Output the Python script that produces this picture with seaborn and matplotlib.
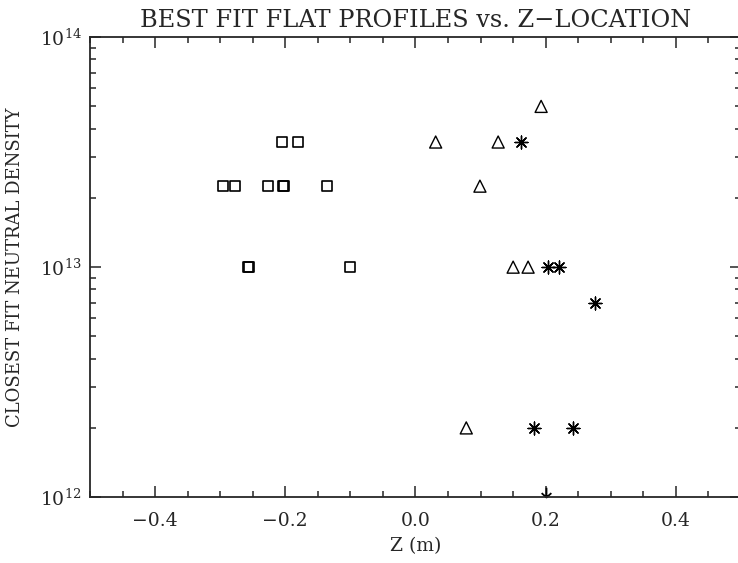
import numpy as np
import pandas as pd
import matplotlib
matplotlib.use("Agg")
import matplotlib.pyplot as plt
from matplotlib.path import Path
from matplotlib.ticker import MultipleLocator, LogLocator
import seaborn as sns

# ---- data ----
square_z = [-0.205, -0.180, -0.296, -0.277, -0.227, -0.204, -0.202, -0.136, -0.256, -0.258, -0.101]
square_n = [3.5e13, 3.5e13, 2.25e13, 2.25e13, 2.25e13, 2.25e13, 2.25e13, 2.25e13, 1e13, 1e13, 1e13]

triangle_z = [0.193, 0.031, 0.127, 0.099, 0.150, 0.173, 0.078]
triangle_n = [5e13, 3.5e13, 3.5e13, 2.25e13, 1e13, 1e13, 2e12]

star_z = [0.162, 0.204, 0.220, 0.276, 0.182, 0.242]
star_n = [3.5e13, 1e13, 1e13, 7e12, 2e12, 2e12]

limit_z = [0.200]
limit_n = [1e12]

x_ticks = [-0.4, -0.2, 0.0, 0.2, 0.4]
x_ticklabels = ["\u22120.4", "\u22120.2", "0.0", "0.2", "0.4"]

sns.set_style("ticks")
plt.rcParams["font.family"] = ["DejaVu Serif"]
plt.rcParams["mathtext.fontset"] = "dejavuserif"

fig = plt.figure(figsize=(7.38, 5.63), dpi=100)
ax = fig.add_axes([0.122, 0.117, 0.882, 0.817])

sq = pd.DataFrame({"z": square_z, "n": square_n})
tr = pd.DataFrame({"z": triangle_z, "n": triangle_n})
st = pd.DataFrame({"z": star_z, "n": star_n})

sns.scatterplot(data=sq, x="z", y="n", marker="s", s=52, facecolor="none",
                edgecolor="black", linewidth=1.2, ax=ax)
sns.scatterplot(data=tr, x="z", y="n", marker="^", s=75, facecolor="none",
                edgecolor="black", linewidth=1.0, ax=ax)
sns.scatterplot(data=st, x="z", y="n", marker=(8, 2, 0), s=85, color="black",
                linewidth=1.0, ax=ax)

arrow = Path([(0, 1.0), (0, 0), (-0.5, 0.45), (0, 0), (0.5, 0.45)],
             [Path.MOVETO, Path.LINETO, Path.MOVETO, Path.LINETO, Path.LINETO])
ax.plot(limit_z, limit_n, linestyle="none", marker=arrow, markersize=14,
        markeredgecolor="black", markerfacecolor="none", markeredgewidth=1.3,
        clip_on=False)

ax.set_yscale("log")
ax.set_xlim(-0.5, 0.5)
ax.set_ylim(1e12, 1e14)
ax.set_xticks(x_ticks)
ax.set_xticklabels(x_ticklabels)
ax.xaxis.set_minor_locator(MultipleLocator(0.05))
ax.yaxis.set_major_locator(LogLocator(base=10))
ax.yaxis.set_minor_locator(LogLocator(base=10, subs=np.arange(2, 10)))

ax.tick_params(which="both", direction="in", top=True, right=True, width=1.1)
ax.tick_params(which="major", length=8)
ax.tick_params(which="minor", length=4)
ax.tick_params(axis="x", which="major", labelsize=13.5, pad=11)
ax.tick_params(axis="y", which="major", labelsize=13.5, pad=6)
for s in ax.spines.values():
    s.set_linewidth(1.3)
    s.set_visible(True)

ax.set_xlabel("Z (m)", fontsize=13.5, labelpad=5)
ax.set_ylabel("CLOSEST FIT NEUTRAL DENSITY", fontsize=13, labelpad=11)
ax.set_title("BEST FIT FLAT PROFILES vs. Z\u2212LOCATION", fontsize=17.3, pad=7)

fig.savefig("out.png", dpi=100)
